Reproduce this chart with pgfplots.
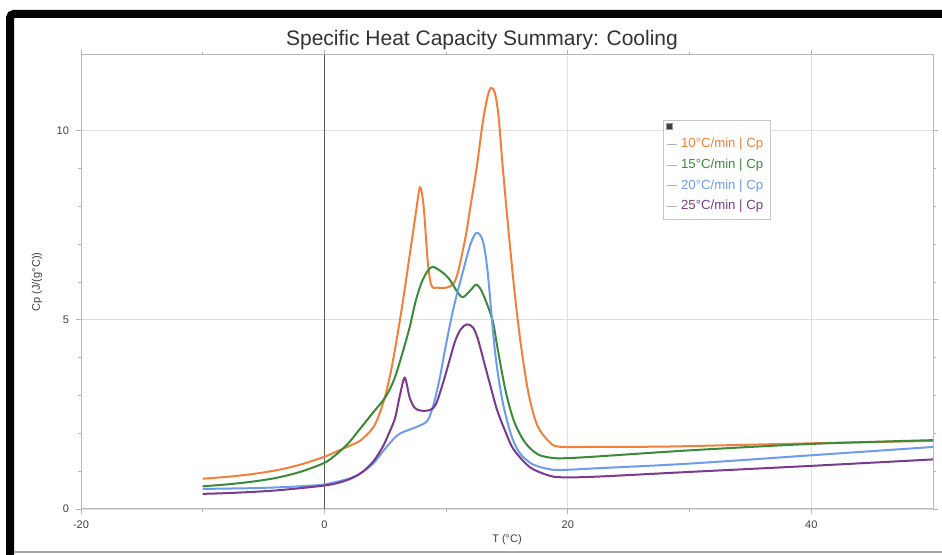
\documentclass[border=0pt]{standalone}
\usepackage{fontspec}
\setmainfont{Liberation Sans}
\usepackage{pgfplots}
\pgfplotsset{compat=1.18}
\definecolor{cOr}{HTML}{F0803C}
\definecolor{cGr}{HTML}{3A8A3A}
\definecolor{cBl}{HTML}{6C9CEB}
\definecolor{cPu}{HTML}{7A3A8E}
\begin{document}
\begin{tikzpicture}[x=1pt,y=1pt]
\useasboundingbox (0,0) rectangle (471,277.5);
\fill[white] (0,0) rectangle (471,277.5);
% outer frame
\draw[line width=4pt, rounded corners=2pt] (5,-2) -- (5,270.5) -- (473,270.5);
\draw[gray!70, line width=0.6pt] (7,1.5) -- (471,1.5);
\begin{axis}[
  at={(40.5pt,23pt)}, anchor=south west,
  scale only axis, width=426pt, height=227pt,
  xmin=-20, xmax=50, ymin=0, ymax=12,
  xtick={-20,0,20,40}, ytick={0,5,10},
  minor x tick num=1, minor y tick num=4,
  grid=major,
  major grid style={gray!25, line width=0.4pt},
  axis line style={gray!55, line width=0.5pt},
  tick style={gray!60, line width=0.4pt},
  major tick length=2.5pt, minor tick length=1.5pt,
  tick align=outside,
  extra x ticks={0}, extra x tick labels={},
  extra x tick style={major grid style={black!65, line width=0.6pt}},
  ticklabel style={font=\fontsize{5.5}{6}\selectfont, text=black!75},
  /pgf/number format/assume math mode=true,
  legend style={at={(0.683,0.857)}, anchor=north west, draw=gray!45,
    line width=0.4pt, font=\fontsize{6.6}{7}\selectfont,
    inner sep=1.5pt, row sep=0pt, cells={anchor=west},
    legend image code/.code={\draw[gray!60, line width=0.4pt] (0pt,0pt) -- (5pt,0pt);}},
  legend cell align=left,
  every axis plot/.append style={line width=1pt, smooth, tension=0.5},
]
\addlegendimage{empty legend}
\addlegendentry{}
\addplot[cOr] coordinates {
(-10,0.80) (-8,0.85) (-6,0.92) (-4,1.02) (-2,1.17) (0,1.38) (1,1.52) (2,1.66) (3,1.82)
(4,2.15) (4.5,2.5) (5,3.0) (5.5,3.7) (6,4.6) (6.5,5.6) (7,6.7) (7.5,7.8) (7.85,8.5)
(8.15,8.0) (8.5,6.5) (8.8,5.9) (9.3,5.85) (10,5.85) (10.6,5.95) (11,6.3) (11.6,7.2)
(12,8.0) (12.5,9.0) (13,10.2) (13.4,10.9) (13.7,11.13) (14,11.0) (14.3,10.4) (14.66,9.0)
(15.2,7.1) (15.7,5.5) (16.2,4.2) (16.8,3.0) (17.5,2.2) (18.4,1.8) (19.2,1.65) (22,1.64)
(28,1.65) (35,1.70) (42,1.75) (50,1.80)};
\addlegendentry{\textcolor{cOr}{10°C/min | Cp}}
\addplot[cGr] coordinates {
(-10,0.60) (-8,0.65) (-6,0.72) (-4,0.82) (-2,0.98) (0,1.22) (1,1.45) (2,1.75) (3,2.15)
(4,2.55) (5,2.95) (5.7,3.4) (6.3,4.0) (7,4.8) (7.5,5.5) (8,6.0) (8.5,6.3) (8.9,6.4)
(9.5,6.3) (10.2,6.1) (11,5.7) (11.4,5.6) (12,5.78) (12.5,5.93) (13,5.7) (13.8,5.0)
(14.25,4.2) (14.9,3.1) (15.6,2.3) (16.5,1.75) (17.5,1.45) (18.5,1.36) (19.5,1.34)
(22,1.38) (30,1.55) (40,1.72) (50,1.82)};
\addlegendentry{\textcolor{cGr}{15°C/min | Cp}}
\addplot[cBl] coordinates {
(-10,0.53) (-8,0.54) (-6,0.55) (-4,0.57) (-2,0.60) (0,0.65) (2,0.80) (3,0.95) (4,1.2)
(5,1.6) (6,1.95) (7,2.1) (7.8,2.2) (8.5,2.35) (9.0,2.8) (9.5,3.5) (9.9,4.2) (10.6,5.3)
(11.4,6.3) (12,7.0) (12.5,7.3) (13,7.1) (13.4,6.3) (14,4.2) (14.6,2.9) (15.3,2.0)
(16,1.5) (17,1.2) (18.2,1.07) (19.3,1.03) (22,1.07) (30,1.2) (40,1.42) (50,1.64)};
\addlegendentry{\textcolor{cBl}{20°C/min | Cp}}
\addplot[cPu] coordinates {
(-10,0.40) (-8,0.42) (-6,0.45) (-4,0.49) (-2,0.55) (0,0.62) (1,0.68) (2,0.78) (3,0.95)
(4,1.25) (4.8,1.65) (5.3,2.0) (5.8,2.4) (6.2,3.0) (6.6,3.47) (7.0,2.95) (7.4,2.68)
(7.9,2.6) (8.7,2.62) (9.2,2.8) (9.9,3.5) (10.7,4.4) (11.2,4.75) (11.7,4.88) (12.2,4.8)
(12.6,4.5) (13.1,3.9) (13.6,3.3) (14.2,2.6) (14.8,2.1) (15.4,1.65) (16.1,1.35)
(16.9,1.1) (17.7,0.97) (18.5,0.88) (19.3,0.84) (22,0.85) (30,0.98) (40,1.14) (50,1.31)};
\addlegendentry{\textcolor{cPu}{25°C/min | Cp}}
\coordinate (sq) at (rel axis cs:0.691,0.842);
\end{axis}
\node[fill=black!75, draw=black!40, minimum size=3pt, inner sep=0pt] at (sq) {};
\node[font=\fontsize{10.5}{12}\selectfont, text=black!80] at (241,257.5) {Specific Heat Capacity Summary: Cooling};
\node[font=\fontsize{5.5}{6}\selectfont, text=black!75, rotate=90] at (18.5,136.5) {Cp (J/(g°C))};
\node[font=\fontsize{5.5}{6}\selectfont, text=black!75] at (253.5,7.5) {T (°C)};
\end{tikzpicture}
\end{document}
